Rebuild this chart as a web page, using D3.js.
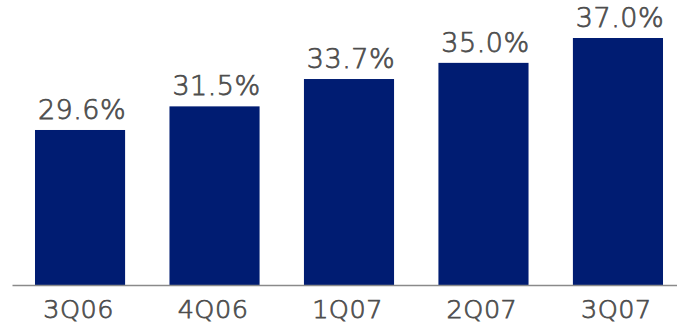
<!DOCTYPE html>
<html>
<head>
<meta charset="utf-8">
<script src="https://cdn.jsdelivr.net/npm/d3@7"></script>
<style>
  html, body { margin: 0; padding: 0; background: #fff; }
  svg { display: block; }
  .lbl {
    font-family: "DejaVu Sans", Verdana, sans-serif;
    font-weight: 200;
    fill: #4d4d4d;
    stroke: #4d4d4d;
    stroke-width: 0.75px;
  }
</style>
</head>
<body>
<svg id="chart" width="677" height="324"></svg>
<script>
// Quarterly ratio, percent
const quarters = ["3Q06", "4Q06", "1Q07", "2Q07", "3Q07"];
const ratios = [29.6, 31.5, 33.7, 35.0, 37.0];

const baseY = 285;
const svg = d3.select("#chart");

const x = d3.scaleBand()
  .domain(quarters)
  .range([12, 686])
  .paddingInner(0.33)
  .paddingOuter(0.171);

// Truncated value axis so the bars show the quarter-on-quarter change
const y = d3.scaleLinear()
  .domain([17.13, 37.0])
  .range([baseY, 38]);

const data = quarters.map((q, i) => ({ q, v: ratios[i] }));

svg.append("g")
  .selectAll("rect")
  .data(data)
  .join("rect")
  .attr("x", d => x(d.q))
  .attr("y", d => y(d.v))
  .attr("width", x.bandwidth())
  .attr("height", d => baseY - y(d.v))
  .attr("fill", "#001c72");

svg.append("g")
  .selectAll("text")
  .data(data)
  .join("text")
  .attr("class", "lbl")
  .attr("x", d => x(d.q) + x.bandwidth() / 2 + 2)
  .attr("y", d => y(d.v) - 11)
  .attr("text-anchor", "middle")
  .attr("font-size", 27)
  .attr("letter-spacing", 0.5)
  .text(d => d.v.toFixed(1) + "%");

const axis = svg.append("g")
  .attr("transform", `translate(0,${baseY})`)
  .call(d3.axisBottom(x).tickSize(0).tickSizeOuter(0).tickPadding(0));

axis.select(".domain").attr("stroke", "#8a8a8a").attr("stroke-width", 1.5);
axis.selectAll(".tick text")
  .attr("class", "lbl")
  .attr("font-size", 25.5)
  .attr("letter-spacing", 0.5)
  .attr("dy", null)
  .attr("y", 33)
  .attr("dx", -1.5);
</script>
</body>
</html>
